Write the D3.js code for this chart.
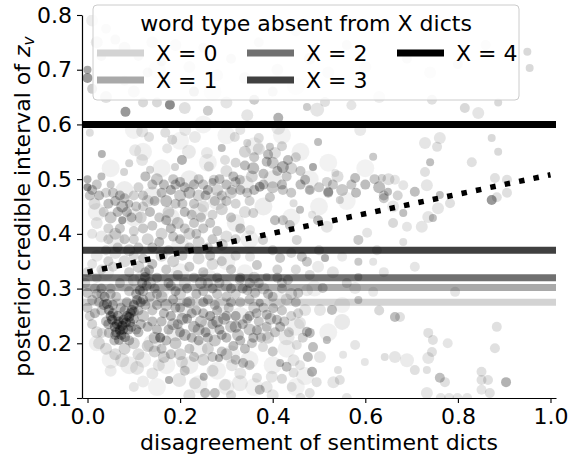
<!DOCTYPE html>
<html><head><meta charset="utf-8">
<script src="https://cdn.jsdelivr.net/npm/d3@7"></script>
<style>body{margin:0;background:#fff} text{font-family:"DejaVu Sans",sans-serif;fill:#000}</style>
</head><body><svg id="c" width="571" height="459"></svg>
<script>
const xTicks=[0,0.2,0.4,0.6,0.8,1.0];
const yTicks=[0.1,0.2,0.3,0.4,0.5,0.6,0.7,0.8];
const levelNames=["X = 0","X = 1","X = 2","X = 3","X = 4"];
const levelValues=[0.275,0.302,0.32,0.37,0.60];
const levelColors=["#d3d3d3","#a9a9a9","#707070","#404040","#000000"];
const fitLine=[[0,0.33],[1,0.508]];
// points: [x, y, radius, opacity]
const ptsHaze=[[0.02,0.2,8,.06],[0.05,0.17,9,.06],[0.09,0.16,9,.07],[0.12,0.17,8,.07],[0.14,0.2,9,.07],[0.17,0.16,9,.06],[0.19,0.22,9,.07],[0.21,0.26,8,.07],[0.22,0.16,9,.07],[0.24,0.19,9,.06],[0.26,0.23,9,.07],[0.28,0.15,9,.06],[0.29,0.27,8,.07],[0.31,0.18,9,.06],[0.33,0.25,9,.07],[0.35,0.17,9,.06],[0.36,0.30,8,.06],[0.38,0.22,9,.07],[0.4,0.16,9,.06],[0.41,0.28,9,.06],[0.43,0.19,9,.06],[0.45,0.23,9,.06],[0.47,0.14,9,.06],[0.49,0.30,8,.06],[0.52,0.22,9,.06],[0.55,0.27,8,.05],[0.16,0.30,9,.06],[0.12,0.32,8,.06],[0.08,0.31,9,.06],[0.04,0.33,8,.06],[0.2,0.33,9,.06],[0.26,0.32,9,.06],[0.3,0.35,9,.06],[0.34,0.33,8,.06],[0.24,0.125,9,.06],[0.30,0.12,8,.06],[0.15,0.12,9,.05],[0.36,0.12,9,.05],[0.45,0.12,9,.05],
[0.02,0.44,9,.06],[0.05,0.52,9,.06],[0.08,0.48,9,.07],[0.1,0.43,9,.07],[0.12,0.55,9,.06],[0.14,0.47,9,.07],[0.16,0.52,9,.06],[0.18,0.43,9,.07],[0.2,0.57,9,.05],[0.22,0.5,9,.07],[0.24,0.44,9,.07],[0.26,0.53,9,.06],[0.28,0.46,9,.07],[0.3,0.58,9,.05],[0.32,0.42,9,.07],[0.34,0.49,9,.07],[0.36,0.56,9,.06],[0.38,0.45,9,.07],[0.4,0.5,9,.07],[0.42,0.58,9,.05],[0.44,0.43,9,.06],[0.46,0.55,9,.06],[0.48,0.5,9,.06],[0.5,0.45,9,.06],[0.52,0.53,9,.05],[0.56,0.46,9,.05],[0.6,0.52,9,.05],[0.1,0.59,9,.05],[0.25,0.6,9,.05],[0.06,0.39,9,.06],[0.2,0.38,9,.06],[0.35,0.39,9,.06],[0.27,0.66,9,.05],[0.45,0.67,9,.04],[0.15,0.7,9,.04]];
const ptsTop=[[0.01,0.79,6,.07],[0.04,0.775,5,.08],[0.02,0.75,6,.1],[0.06,0.755,5,.1],[0.03,0.725,5,.12],[0.08,0.74,6,.1],[0.11,0.725,5,.1],[0.14,0.75,6,.08],[0.16,0.715,5,.1],[0.19,0.745,6,.08],[0.13,0.695,5,.1],[0.0,0.70,4,.35],[0.0,0.685,5,.4],[0.01,0.665,5,.2],[0.04,0.65,6,.12],[0.08,0.68,5,.1],[0.10,0.66,6,.1],[0.17,0.675,5,.08],[0.22,0.705,6,.08],[0.25,0.74,5,.08],[0.28,0.69,6,.08],[0.31,0.72,5,.1],[0.34,0.685,6,.08],[0.37,0.75,5,.08],[0.41,0.70,6,.08],[0.45,0.77,5,.07],[0.48,0.72,6,.08],[0.52,0.695,6,.07],[0.56,0.745,5,.08],[0.60,0.705,6,.07],[0.64,0.775,5,.07],[0.69,0.72,5,.08],[0.74,0.695,6,.07],[0.80,0.71,5,.08],[0.86,0.745,5,.07],[0.95,0.733,4,.15],[0.955,0.703,4,.15],[0.082,0.623,5,.4],[0.178,0.636,5,.45],[0.15,0.64,5,.15],[0.21,0.63,6,.12],[0.26,0.625,5,.2],[0.30,0.64,6,.1],[0.345,0.617,6,.1],[0.412,0.612,5,.3],[0.474,0.632,4,.2],[0.496,0.627,7,.1],[0.513,0.641,5,.12],[0.744,0.645,5,.12],[0.815,0.63,5,.15],[0.844,0.621,6,.1],[0.887,0.64,4,.15],[0.57,0.635,5,.1],[0.63,0.65,6,.07],[0.40,0.66,5,.12],[0.36,0.645,5,.2],[0.23,0.66,5,.2],[0.12,0.64,5,.15]];
const ptsUpper=[[0.005,0.585,4,.15],[0.031,0.546,4,.35],[0.118,0.587,6,.12],[0.133,0.577,5,.15],[0.168,0.585,5,.15],[0.183,0.572,5,.18],[0.211,0.59,6,.1],[0.232,0.577,6,.1],[0.103,0.553,6,.1],[0.118,0.535,6,.12],[0.172,0.556,5,.12],[0.204,0.535,5,.35],[0.219,0.55,7,.1],[0.258,0.548,6,.1],[0.262,0.523,5,.15],[0.29,0.557,4,.3],[0.297,0.535,5,.15],[0.09,0.529,4,.2],[0.079,0.513,4,.2],[0.135,0.517,4,.2],[0.189,0.522,4,.2],[0.318,0.577,5,.15],[0.273,0.499,5,.2],[0.312,0.48,5,.2],
[0.412,0.594,7,.1],[0.589,0.59,6,.1],[0.498,0.568,4,.3],[0.345,0.566,4,.2],[0.394,0.559,4,.25],[0.405,0.548,6,.15],[0.617,0.541,4,.25],[0.422,0.522,6,.35],[0.433,0.535,5,.3],[0.358,0.52,6,.3],[0.387,0.532,5,.3],[0.487,0.522,4,.4],[0.47,0.499,5,.3],[0.535,0.511,4,.12],[0.578,0.502,5,.3],[0.636,0.502,4,.2],[0.664,0.499,5,.12],[0.649,0.477,4,.3],[0.517,0.495,5,.2],[0.52,0.477,5,.3],[0.545,0.462,4,.2],[0.48,0.48,4,.12],[0.372,0.486,5,.4],[0.329,0.499,5,.25],[0.345,0.475,5,.25],[0.394,0.467,5,.25],[0.422,0.48,5,.25],[0.445,0.456,4,.15],[0.459,0.444,4,.3],[0.405,0.425,5,.3],[0.422,0.425,5,.25],[0.437,0.416,5,.25],[0.485,0.435,4,.12],[0.498,0.425,5,.3],[0.517,0.413,6,.12],[0.604,0.402,5,.12],[0.585,0.389,5,.25],[0.358,0.438,5,.2],[0.351,0.407,5,.12],[0.379,0.389,5,.2],[0.452,0.389,5,.2],
[0.34,0.55,6,.2],[0.36,0.54,5,.25],[0.37,0.555,6,.15],[0.39,0.545,5,.3],[0.40,0.53,6,.25],[0.41,0.515,5,.3],[0.43,0.505,5,.25],[0.44,0.52,6,.2],[0.38,0.51,5,.3],[0.355,0.505,6,.2],[0.34,0.525,5,.3],[0.45,0.54,5,.2],[0.46,0.515,5,.25],[0.42,0.56,5,.2],[0.37,0.575,5,.15],[0.33,0.59,5,.12],[0.30,0.515,6,.15],[0.32,0.53,5,.2]];
const ptsBand=[[0.00,0.485,4,.5],[0.00,0.50,4,.35],[0.005,0.47,5,.25],[0.02,0.49,5,.25],[0.03,0.505,4,.3],[0.015,0.455,6,.15],[0.04,0.475,5,.2],[0.05,0.49,4,.25],[0.06,0.46,5,.3],[0.065,0.44,5,.3],[0.075,0.45,6,.3],[0.08,0.465,5,.25],[0.09,0.455,4,.3],[0.10,0.47,5,.2],[0.075,0.425,4,.45],[0.05,0.43,6,.25],[0.035,0.44,5,.2],[0.02,0.42,6,.12],[0.01,0.40,5,.12],[0.03,0.395,6,.1],[0.045,0.41,5,.2],[0.06,0.40,6,.2],[0.08,0.39,5,.25],[0.1,0.405,5,.2],[0.115,0.43,6,.2],[0.12,0.45,5,.2],[0.13,0.46,6,.15],[0.14,0.49,5,.25],[0.15,0.50,6,.25],[0.125,0.505,5,.3],[0.11,0.485,5,.2],[0.16,0.475,5,.3],[0.17,0.46,6,.3],[0.18,0.48,5,.35],[0.19,0.49,5,.3],[0.2,0.47,6,.25],[0.21,0.485,5,.3],[0.22,0.475,6,.3],[0.19,0.455,5,.25],[0.175,0.44,6,.2],[0.155,0.43,5,.25],[0.14,0.415,5,.25],[0.16,0.40,6,.2],[0.18,0.41,5,.3],[0.195,0.42,6,.25],[0.21,0.44,5,.3],[0.23,0.455,5,.25],[0.24,0.47,6,.2],[0.25,0.49,5,.25],[0.26,0.48,5,.35],[0.27,0.495,4,.3],[0.28,0.48,6,.2],[0.29,0.47,5,.25],[0.30,0.49,5,.3],[0.31,0.475,6,.2],[0.32,0.495,5,.25],[0.33,0.48,5,.3],[0.25,0.45,6,.15],[0.27,0.435,5,.2],[0.29,0.445,6,.2],[0.31,0.43,5,.25],[0.32,0.455,5,.2],[0.23,0.42,5,.25],[0.22,0.40,6,.2],[0.25,0.41,5,.25],[0.28,0.405,5,.25],[0.30,0.395,6,.15],[0.20,0.39,5,.3],[0.24,0.385,6,.2],[0.155,0.385,5,.3],[0.13,0.39,6,.2],[0.11,0.375,5,.25],[0.09,0.37,6,.2],[0.065,0.375,5,.2],[0.04,0.37,5,.15],[0.26,0.375,5,.25],[0.29,0.38,6,.2],[0.32,0.39,5,.2],[0.33,0.41,5,.3],[0.34,0.44,6,.15],[0.35,0.46,5,.2],[0.36,0.48,5,.3],[0.38,0.49,5,.3],[0.40,0.485,6,.25],[0.42,0.49,5,.3],[0.44,0.475,5,.25],[0.46,0.49,5,.3],[0.48,0.48,5,.3],[0.50,0.485,5,.25],[0.52,0.475,5,.3],[0.53,0.49,5,.25],[0.54,0.505,6,.15],[0.55,0.48,6,.25],[0.57,0.49,5,.25],[0.58,0.475,5,.3],[0.60,0.49,5,.3],[0.62,0.50,5,.25],[0.63,0.485,6,.3],[0.64,0.465,5,.25],[0.65,0.50,6,.15],[0.67,0.47,5,.2],[0.66,0.45,6,.1],
[0.01,0.48,5,.3],[0.025,0.47,5,.3],[0.045,0.455,5,.3],[0.055,0.475,5,.25],[0.07,0.47,5,.3],[0.085,0.44,5,.3],[0.095,0.43,5,.3],[0.105,0.45,5,.25],[0.12,0.47,5,.25],[0.135,0.44,5,.3],[0.145,0.46,5,.3],[0.165,0.49,5,.3],[0.185,0.5,5,.25],[0.2,0.495,5,.3],[0.23,0.49,5,.3],[0.24,0.5,5,.25],[0.255,0.47,5,.3],[0.275,0.46,5,.25],[0.285,0.5,5,.3],[0.3,0.46,5,.25],[0.315,0.505,5,.3],[0.205,0.455,5,.25],[0.225,0.435,5,.25],[0.245,0.43,5,.25],[0.265,0.42,5,.25],[0.17,0.425,5,.3],[0.185,0.395,5,.25],[0.21,0.41,5,.25],[0.235,0.4,5,.25],[0.27,0.39,5,.25],[0.12,0.41,5,.25],[0.1,0.39,5,.2],[0.07,0.41,5,.25],[0.045,0.39,5,.2],[0.14,0.375,5,.25],[0.175,0.37,5,.2],[0.22,0.375,5,.25]];
const ptsMid=[[0.0,0.33,5,.2],[0.01,0.345,5,.15],[0.02,0.36,6,.12],[0.03,0.335,5,.2],[0.045,0.35,5,.25],[0.06,0.365,6,.15],[0.055,0.34,5,.2],[0.07,0.31,5,.25],[0.08,0.35,6,.2],[0.09,0.33,5,.25],[0.10,0.36,5,.2],[0.11,0.34,6,.25],[0.12,0.355,5,.3],[0.125,0.33,5,.3],[0.135,0.31,6,.25],[0.14,0.345,5,.35],[0.15,0.32,5,.3],[0.16,0.36,6,.2],[0.17,0.335,5,.3],[0.18,0.305,5,.3],[0.185,0.35,6,.25],[0.195,0.325,5,.3],[0.205,0.36,5,.25],[0.21,0.31,6,.2],[0.22,0.34,5,.3],[0.23,0.32,5,.25],[0.24,0.355,6,.2],[0.25,0.33,5,.3],[0.26,0.31,5,.25],[0.265,0.36,5,.3],[0.27,0.345,6,.2],[0.28,0.32,5,.3],[0.29,0.35,5,.25],[0.30,0.305,6,.2],[0.31,0.335,5,.3],[0.32,0.36,5,.2],[0.33,0.32,5,.3],[0.345,0.297,5,.3],[0.362,0.292,5,.3],[0.329,0.316,5,.3],[0.387,0.321,4,.3],[0.433,0.316,5,.3],[0.455,0.292,5,.3],[0.474,0.297,6,.12],[0.508,0.301,5,.3],[0.578,0.301,6,.12],[0.617,0.294,5,.12],[0.585,0.279,4,.3],[0.585,0.321,4,.3],[0.617,0.349,4,.15],[0.585,0.349,4,.3],[0.55,0.358,5,.12],[0.513,0.356,4,.45],[0.474,0.349,5,.3],[0.463,0.358,5,.3],[0.498,0.34,6,.12],[0.416,0.356,5,.3],[0.366,0.343,5,.3],[0.351,0.358,5,.15],[0.40,0.37,5,.25],[0.44,0.365,5,.2],[0.38,0.30,6,.2],[0.42,0.30,5,.25],[0.48,0.325,5,.2],[0.53,0.33,6,.15],[0.56,0.31,5,.2],[0.50,0.37,5,.2],[0.36,0.32,6,.2],[0.41,0.335,5,.25],[0.45,0.335,5,.2],[0.0,0.292,5,.3],[0.01,0.279,5,.3],[0.016,0.30,5,.2],[-0.005,0.31,5,.2],[0.02,0.32,5,.15],[0.03,0.29,5,.25],[0.05,0.30,5,.2],[0.09,0.295,5,.25],[0.10,0.315,6,.2],[0.15,0.29,5,.3],[0.20,0.29,6,.25],[0.25,0.295,5,.3],[0.28,0.29,5,.3],[0.32,0.29,5,.25]];
const ptsVee=[[0.037,0.285,5,.4],[0.042,0.272,5,.4],[0.046,0.261,5,.45],[0.05,0.25,5,.45],[0.053,0.243,5,.5],[0.059,0.23,5,.5],[0.064,0.235,5,.45],[0.07,0.224,5,.55],[0.075,0.232,5,.5],[0.078,0.243,5,.5],[0.083,0.238,5,.45],[0.09,0.248,5,.45],[0.093,0.255,5,.4],[0.096,0.261,5,.45],[0.10,0.27,5,.4],[0.107,0.279,5,.4],[0.113,0.297,5,.4],[0.118,0.31,5,.35],[0.124,0.321,5,.35],[0.133,0.334,5,.35],[0.068,0.206,5,.4],[0.081,0.211,5,.4],[0.046,0.219,5,.3],[0.06,0.215,5,.35],[0.065,0.25,5,.4],[0.08,0.26,5,.35],[0.088,0.225,5,.4],[0.055,0.27,5,.35],[0.072,0.265,5,.3],[0.095,0.23,5,.35],[0.04,0.24,5,.3],[0.085,0.275,5,.3],[0.11,0.26,5,.3],[0.1,0.245,5,.35],[0.073,0.215,5,.45],[0.058,0.205,5,.3],[0.09,0.205,5,.3],[0.03,0.26,5,.25],[0.025,0.275,5,.25],[0.105,0.29,5,.35],
[0.035,0.27,5,.35],[0.045,0.235,5,.35],[0.055,0.255,5,.4],[0.062,0.22,5,.4],[0.067,0.24,5,.45],[0.077,0.225,5,.45],[0.085,0.25,5,.4],[0.092,0.238,5,.4],[0.1,0.258,5,.35],[0.105,0.225,5,.3],[0.115,0.275,5,.35],[0.12,0.295,5,.3],[0.128,0.305,5,.3],[0.062,0.285,5,.25],[0.05,0.29,5,.3],[0.03,0.3,5,.3],[0.02,0.29,5,.3]];
const ptsLow=[[0.12,0.25,6,.25],[0.13,0.23,5,.3],[0.14,0.26,5,.25],[0.145,0.21,6,.25],[0.157,0.21,5,.5],[0.16,0.24,5,.3],[0.17,0.27,6,.25],[0.175,0.225,5,.3],[0.18,0.25,5,.35],[0.19,0.20,6,.25],[0.195,0.235,5,.3],[0.2,0.265,5,.3],[0.21,0.215,6,.3],[0.215,0.245,5,.35],[0.22,0.19,5,.25],[0.23,0.23,6,.3],[0.235,0.26,5,.3],[0.24,0.205,5,.35],[0.245,0.24,6,.25],[0.25,0.275,5,.3],[0.255,0.22,5,.35],[0.26,0.19,6,.2],[0.265,0.25,5,.4],[0.27,0.235,5,.3],[0.275,0.205,6,.25],[0.28,0.26,5,.3],[0.285,0.225,5,.35],[0.29,0.185,5,.25],[0.295,0.245,6,.3],[0.30,0.21,5,.3],[0.305,0.265,5,.25],[0.31,0.23,6,.25],[0.315,0.195,5,.3],[0.32,0.25,5,.35],[0.325,0.215,6,.25],[0.33,0.275,5,.25],[0.335,0.235,5,.3],[0.34,0.19,5,.3],[0.336,0.164,5,.3],[0.358,0.21,5,.3],[0.366,0.224,5,.3],[0.387,0.23,5,.25],[0.416,0.23,5,.3],[0.409,0.243,5,.3],[0.387,0.252,5,.3],[0.401,0.264,5,.3],[0.372,0.274,4,.3],[0.379,0.193,5,.15],[0.43,0.211,8,.1],[0.459,0.237,6,.12],[0.35,0.25,5,.3],[0.36,0.265,6,.2],[0.355,0.20,5,.25],[0.37,0.24,5,.25],[0.39,0.21,6,.2],[0.40,0.185,5,.25],[0.42,0.26,5,.25],[0.44,0.25,5,.2],[0.45,0.275,5,.25],[0.43,0.28,6,.15],[0.47,0.261,6,.12],[0.502,0.261,6,.12],[0.528,0.261,5,.3],[0.55,0.239,8,.1],[0.48,0.219,5,.3],[0.474,0.221,5,.3],[0.487,0.193,5,.3],[0.476,0.175,5,.3],[0.502,0.175,6,.12],[0.452,0.197,5,.15],[0.445,0.169,6,.12],[0.43,0.157,5,.3],[0.416,0.164,4,.3],[0.459,0.16,5,.12],[0.517,0.206,4,.3],[0.578,0.197,5,.12],[0.552,0.179,4,.12],[0.599,0.166,4,.12],[0.642,0.175,4,.15],[0.664,0.175,6,.12],[0.664,0.248,5,.3],
[0.0,0.265,5,.25],[0.005,0.25,5,.2],[0.016,0.255,5,.3],[0.01,0.235,5,.2],[0.02,0.22,6,.15],[0.031,0.219,5,.15],[0.025,0.20,6,.12],[0.04,0.19,6,.15],[0.06,0.18,6,.15],[0.08,0.19,6,.2],[0.10,0.20,6,.2],[0.11,0.22,5,.3],[0.115,0.235,5,.3],[0.125,0.27,5,.3],[0.135,0.285,5,.3],[0.13,0.195,6,.2],[0.145,0.185,6,.2],[0.16,0.19,5,.25],[0.165,0.175,6,.2],[0.18,0.18,5,.25],[0.2,0.18,6,.2],[0.23,0.175,5,.25],[0.25,0.17,6,.2],[0.27,0.175,5,.25],[0.30,0.18,6,.2],[0.32,0.17,5,.25],[0.11,0.18,6,.15],[0.15,0.27,5,.3],[0.185,0.28,5,.3],[0.22,0.275,6,.25],[0.26,0.28,5,.3],[0.30,0.285,5,.25],[0.35,0.28,5,.25],[0.40,0.285,5,.25],[0.42,0.31,5,.2],[0.44,0.29,6,.2],
[0.14,0.24,5,.3],[0.15,0.225,5,.3],[0.165,0.255,5,.3],[0.17,0.205,5,.3],[0.185,0.235,6,.25],[0.19,0.265,5,.3],[0.2,0.22,5,.3],[0.205,0.245,6,.3],[0.215,0.275,5,.25],[0.225,0.255,5,.3],[0.225,0.21,5,.3],[0.24,0.225,6,.25],[0.25,0.255,5,.3],[0.26,0.21,5,.3],[0.275,0.27,5,.25],[0.28,0.24,6,.3],[0.29,0.215,5,.3],[0.3,0.25,5,.3],[0.31,0.275,5,.25],[0.32,0.23,6,.3],[0.33,0.205,5,.3],[0.345,0.245,5,.3],[0.35,0.225,6,.25],[0.365,0.255,5,.3],[0.375,0.21,5,.25],[0.38,0.265,5,.25],[0.395,0.245,6,.25],[0.405,0.22,5,.25],[0.425,0.24,5,.25],[0.435,0.22,5,.2],[0.455,0.255,5,.2],[0.465,0.21,5,.2],
[0.12,0.28,5,.3],[0.145,0.3,5,.3],[0.16,0.285,6,.25],[0.175,0.31,5,.3],[0.19,0.295,5,.3],[0.215,0.3,5,.3],[0.235,0.29,5,.3],[0.245,0.31,6,.25],[0.27,0.3,5,.3],[0.285,0.31,5,.25],[0.31,0.3,5,.3],[0.335,0.3,5,.3],[0.35,0.31,5,.3],[0.37,0.31,5,.25],[0.39,0.29,5,.3],[0.41,0.32,5,.25]];
const ptsBottom=[[0.075,0.169,7,.1],[0.107,0.155,7,.1],[0.154,0.16,6,.1],[0.176,0.133,4,.3],[0.198,0.133,7,.1],[0.232,0.127,6,.1],[0.254,0.109,5,.25],[0.275,0.109,5,.25],[0.297,0.124,6,.1],[0.251,0.139,4,.3],[0.204,0.166,6,.12],[0.284,0.173,4,.3],[0.312,0.16,6,.1],[0.33,0.145,6,.1],[0.329,0.127,8,.08],[0.366,0.137,5,.12],[0.398,0.139,6,.1],[0.387,0.12,6,.1],[0.372,0.115,5,.25],[0.441,0.12,5,.1],[0.445,0.146,5,.12],[0.485,0.148,5,.3],[0.495,0.129,5,.12],[0.48,0.109,5,.12],[0.531,0.129,6,.1],[0.545,0.133,5,.12],[0.541,0.151,4,.12],[0.56,0.10,5,.1],[0.14,0.145,6,.1],[0.12,0.13,6,.08],[0.21,0.15,5,.2],[0.27,0.15,6,.12],[0.35,0.16,5,.2],[0.42,0.135,5,.15],[0.05,0.15,6,.08],[0.1,0.12,5,.1],[0.22,0.105,6,.12],[0.31,0.105,5,.15],[0.40,0.105,6,.1],[0.46,0.10,5,.12]];
const ptsRight=[[0.729,0.566,6,.1],[0.755,0.559,5,.12],[0.761,0.575,6,.1],[0.873,0.575,4,.15],[0.887,0.55,4,.15],[0.83,0.531,5,.12],[0.74,0.531,4,.25],[0.729,0.513,5,.12],[0.733,0.489,6,.1],[0.707,0.477,5,.25],[0.682,0.489,5,.1],[0.761,0.471,4,.25],[0.783,0.456,5,.12],[0.757,0.447,6,.1],[0.736,0.431,6,.1],[0.746,0.429,4,.25],[0.69,0.413,5,.1],[0.722,0.413,6,.1],[0.682,0.438,4,.25],[0.682,0.385,4,.12],[0.88,0.502,5,.12],[0.906,0.499,5,.12],[0.906,0.475,5,.12],[0.873,0.462,5,.4],[0.884,0.467,5,.12],[0.707,0.34,5,.1],[0.794,0.294,5,.1],[0.675,0.248,5,.12],[0.736,0.219,5,.12],[0.746,0.206,5,.12],[0.778,0.2,5,.1],[0.744,0.184,5,.12],[0.69,0.169,7,.08],[0.736,0.173,6,.1],[0.707,0.151,5,.12],[0.733,0.151,4,.12],[0.761,0.137,5,.25],[0.772,0.129,5,.12],[0.884,0.23,5,.12],[0.88,0.191,5,.12],[0.851,0.148,5,.12],[0.851,0.133,5,.12],[0.865,0.133,5,.12],[0.904,0.129,5,.3],[0.851,0.115,5,.1],[0.869,0.109,5,.12],[0.733,0.109,6,.1],[0.763,0.1,5,.1],[0.781,0.1,5,.1],[0.799,0.1,5,.1],[0.82,0.1,5,.1],[0.64,0.47,5,.2],[0.66,0.42,5,.15],[0.625,0.37,5,.12],[0.64,0.33,5,.1],[0.63,0.26,5,.15]];

const svg=d3.select("#c");
const L=82,R=556,T=15,B=398;
const x=d3.scaleLinear().domain([-0.0119,1.0119]).range([L,R]);
const y=d3.scaleLinear().domain([0.1,0.8]).range([B,T]);
const FS=22;

svg.append("defs").append("clipPath").attr("id","clip").append("rect")
  .attr("x",L).attr("y",T).attr("width",R-L).attr("height",B-T);
const plot=svg.append("g").attr("clip-path","url(#clip)");

plot.selectAll("line.lvl").data(levelValues).enter().append("line")
  .attr("x1",L).attr("x2",R).attr("y1",d=>y(d)).attr("y2",d=>y(d))
  .attr("stroke",(d,i)=>levelColors[i]).attr("stroke-width",7);

// opacity scale per group (style only)
const groups=[[ptsHaze,1],[ptsTop,1],[ptsUpper,.85],[ptsBand,.85],[ptsMid,.7],[ptsVee,.8],[ptsLow,.85],[ptsBottom,1],[ptsRight,1]];
groups.forEach(([arr,k])=>{
  plot.append("g").selectAll("circle").data(arr).enter().append("circle")
    .attr("cx",d=>x(d[0])).attr("cy",d=>y(d[1])).attr("r",d=>d[2])
    .attr("fill","#000").attr("fill-opacity",d=>d[3]*k);
});

plot.append("path").datum(fitLine)
  .attr("d",d3.line().x(d=>x(d[0])).y(d=>y(d[1])))
  .attr("stroke","#000").attr("stroke-width",5.5).attr("stroke-dasharray","5.5,9.2").attr("fill","none");

const xa=svg.append("g").attr("transform",`translate(0,${B})`)
  .call(d3.axisBottom(x).tickValues(xTicks).tickFormat(d3.format(".1f")).tickSize(5).tickSizeOuter(0).tickPadding(5));
const ya=svg.append("g").attr("transform",`translate(${L},0)`)
  .call(d3.axisLeft(y).tickValues(yTicks).tickFormat(d3.format(".1f")).tickSize(5).tickSizeOuter(0).tickPadding(5));
[xa,ya].forEach(a=>{
  a.selectAll("text").attr("font-size",FS).attr("font-family","DejaVu Sans").attr("fill","#000");
  a.select(".domain").attr("stroke","#000").attr("stroke-width",1.2);
  a.selectAll(".tick line").attr("stroke","#000").attr("stroke-width",1.1);
});

svg.append("text").attr("x",(L+R)/2).attr("y",450).attr("text-anchor","middle").attr("font-size",FS)
  .text("disagreement of sentiment dicts");
const yl=svg.append("text").attr("transform",`translate(30,${(T+B)/2}) rotate(-90)`).attr("text-anchor","middle").attr("font-size",FS);
yl.append("tspan").text("posterior credible interval of ");
yl.append("tspan").attr("font-style","italic").text("z");
yl.append("tspan").attr("font-style","italic").attr("font-size",FS*0.7).attr("dy",4).text("v");

const lg=svg.append("g");
lg.append("rect").attr("x",93).attr("y",5).attr("width",426).attr("height",95).attr("rx",4)
  .attr("fill","#fff").attr("fill-opacity",0.8).attr("stroke","#cccccc").attr("stroke-width",1);
lg.append("text").attr("x",306).attr("y",31).attr("text-anchor","middle").attr("font-size",FS).text("word type absent from X dicts");
const colX=[97,247,397], rowY=[53,80];
levelNames.forEach((n,i)=>{
  const cx=colX[Math.floor(i/2)], cy=rowY[i%2];
  lg.append("line").attr("x1",cx).attr("x2",cx+47).attr("y1",cy).attr("y2",cy)
    .attr("stroke",levelColors[i]).attr("stroke-width",7);
  lg.append("text").attr("x",cx+59).attr("y",cy+8).attr("font-size",FS).text(n);
});
</script></body></html>
